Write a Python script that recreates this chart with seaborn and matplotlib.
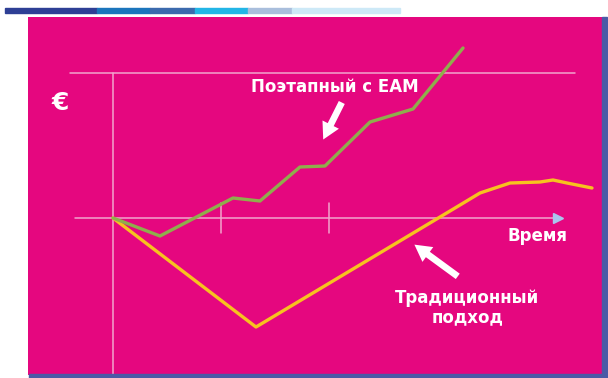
import matplotlib
matplotlib.use("Agg")
import matplotlib.pyplot as plt
from matplotlib.patches import Rectangle
import seaborn as sns
import pandas as pd

# ---- data (time units = tick spacing, value units arbitrary) ----
eam_time = [0, 0.435, 1.111, 1.361, 1.731, 1.963, 2.380, 2.778, 3.241]
eam_value = [0, -0.36, 0.40, 0.34, 1.02, 1.04, 1.92, 2.18, 3.40]
trad_time = [0, 1.324, 3.167, 3.398, 3.676, 3.954, 4.074, 4.204, 4.435]
trad_value = [0, -2.18, 0.20, 0.50, 0.70, 0.72, 0.76, 0.70, 0.60]
label_eam = "Поэтапный с ЕАМ"
label_trad = "Традиционный\nподход"
label_time = "Время"
label_money = "€"
tick_positions = [1, 2]

PINK = "#e5077f"
AXIS = "#f2a4cd"
GREEN = "#8fae4c"
YELLOW = "#f7c21f"

sns.set_theme(style="white")
plt.rcParams['font.family'] = ['DejaVu Sans']

W, H = 608, 378
fig = plt.figure(figsize=(W / 100, H / 100), dpi=100)
fig.patch.set_facecolor("white")

# top gradient stripe
stripe = [(5, 97, "#2e3f95"), (97, 150, "#1b75bc"), (150, 195, "#3b6aad"),
          (195, 248, "#22b5e6"), (248, 292, "#a9bedc"), (292, 400, "#cde9f7")]
for x0, x1, c in stripe:
    fig.patches.append(Rectangle((x0 / W, (H - 13) / H), (x1 - x0) / W, 5 / H,
                                 transform=fig.transFigure, color=c, zorder=0))

# blue frame on right/bottom of pink panel
fig.patches.append(Rectangle((29 / W, (H - 378) / H), (607 - 29) / W, 4 / H,
                             transform=fig.transFigure, color="#4b5aa6", zorder=0))
fig.patches.append(Rectangle((602 / W, 0), 5 / W, (H - 17) / H,
                             transform=fig.transFigure, color="#4b5aa6", zorder=0))

ax = fig.add_axes([28 / W, (H - 375) / H, (603 - 28) / W, (375 - 17) / H])
ax.set_facecolor(PINK)
for s in ax.spines.values():
    s.set_visible(False)
ax.set_xlim(-0.787, 4.537)
ax.set_ylim(-3.14, 4.02)
ax.set_xticks([])
ax.set_yticks([])

# axis lines
ax.plot([-0.398, 4.278], [2.9, 2.9], color=AXIS, lw=1.1, zorder=1)
ax.plot([0, 0], [2.9, -3.14], color=AXIS, lw=1.1, zorder=1)
ax.plot([-0.352, 4.10], [0, 0], color=AXIS, lw=1.1, zorder=1)
ax.plot([4.12], [0], marker=">", color="#a9c6ee", markersize=7, zorder=1)
for t in tick_positions:
    ax.plot([t, t], [0.30, -0.30], color=AXIS, lw=1.1, zorder=1)

df_eam = pd.DataFrame({"t": eam_time, "v": eam_value})
df_trad = pd.DataFrame({"t": trad_time, "v": trad_value})
sns.lineplot(data=df_trad, x="t", y="v", ax=ax, color=YELLOW, lw=2.4,
             sort=False, zorder=3)
sns.lineplot(data=df_eam, x="t", y="v", ax=ax, color=GREEN, lw=2.4,
             sort=False, zorder=3)
ax.set_xlabel("")
ax.set_ylabel("")

# texts
ax.text(2.05, 2.62, label_eam, color="white", fontsize=12, fontweight="bold",
        ha="center", va="center")
ax.text(3.93, -0.36, label_time, color="white", fontsize=12, fontweight="bold",
        ha="center", va="center")
ax.text(3.28, -1.79, label_trad, color="white", fontsize=12, fontweight="bold",
        ha="center", va="center", linespacing=1.05)
ax.text(-0.49, 2.30, label_money, color="white", fontsize=18, fontweight="bold",
        ha="center", va="center")

# arrows
ax.annotate("", xy=(1.935, 1.52), xytext=(2.13, 2.36),
            arrowprops=dict(arrowstyle="simple,head_length=1.0,head_width=1.1,tail_width=0.4",
                            color="white", lw=0))
ax.annotate("", xy=(2.77, -0.50), xytext=(3.213, -1.20),
            arrowprops=dict(arrowstyle="simple,head_length=1.0,head_width=1.1,tail_width=0.4",
                            color="white", lw=0))

fig.savefig("out.png", dpi=100, facecolor="white")
